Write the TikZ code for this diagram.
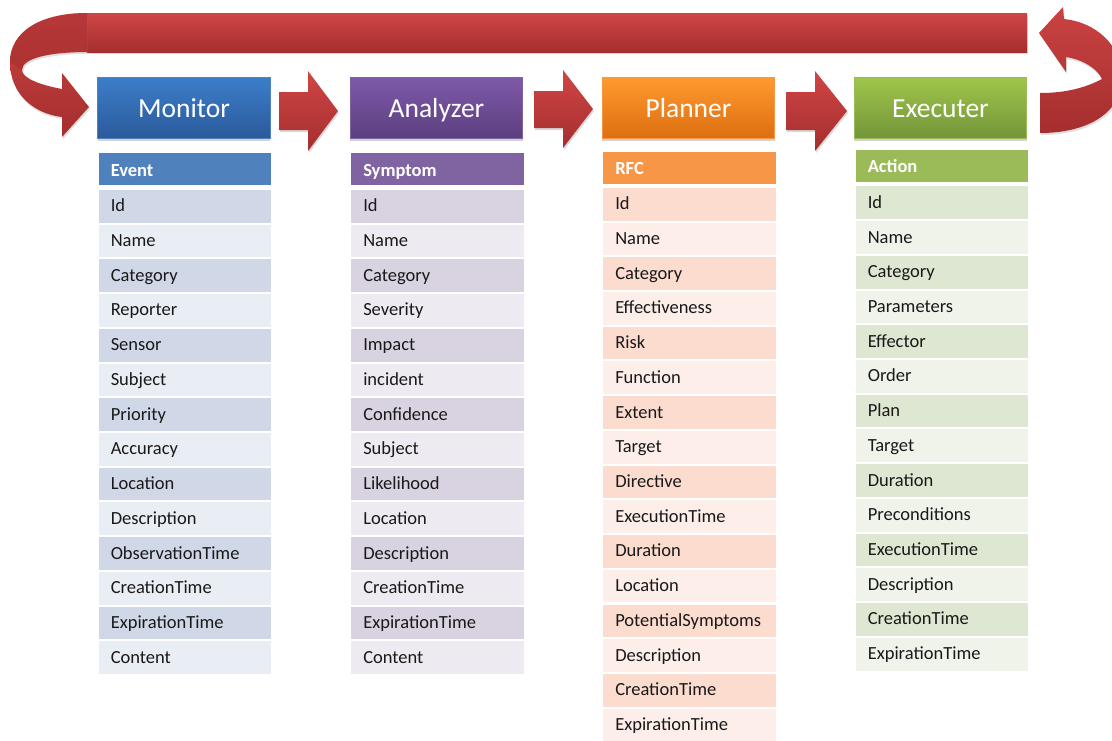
\documentclass[tikz,border=0pt]{standalone}
\usepackage{fontspec}
\setmainfont{Carlito}
\usetikzlibrary{shadows}
\definecolor{monT}{HTML}{3C7ECA}
\definecolor{monB}{HTML}{2B5A9B}
\definecolor{monH}{HTML}{4F81BD}
\definecolor{monA}{HTML}{D0D8E8}
\definecolor{monL}{HTML}{E9EDF4}
\definecolor{anaT}{HTML}{7E59A9}
\definecolor{anaB}{HTML}{5C3F80}
\definecolor{anaH}{HTML}{8064A2}
\definecolor{anaA}{HTML}{D9D3E1}
\definecolor{anaL}{HTML}{EDEAF1}
\definecolor{plaT}{HTML}{FF9A30}
\definecolor{plaB}{HTML}{DD6F10}
\definecolor{plaH}{HTML}{F79646}
\definecolor{plaA}{HTML}{FBDCCF}
\definecolor{plaL}{HTML}{FDEEE9}
\definecolor{exeT}{HTML}{9FC64B}
\definecolor{exeB}{HTML}{74953A}
\definecolor{exeH}{HTML}{9BBB59}
\definecolor{exeA}{HTML}{DEE7D1}
\definecolor{exeL}{HTML}{EFF3EA}
\definecolor{arT}{HTML}{D04545}
\definecolor{arB}{HTML}{A52E2E}
\definecolor{arM}{HTML}{B53737}
\definecolor{arD}{HTML}{9E2B2B}
\tikzset{
  hdr/.style={minimum width=172.5pt, minimum height=61pt, inner sep=0pt, text=white,
    font=\fontsize{27.5}{27.5}\selectfont, text height=19.5pt, text depth=0.5pt,
    drop shadow={opacity=0.35, shadow xshift=0pt, shadow yshift=-2.5pt}},
  th/.style={minimum height=32pt, text width=148.5pt, inner xsep=12pt, inner ysep=0pt,
    align=left, text=white, font=\fontsize{18.5}{18.5}\selectfont\bfseries,
    text height=15pt, text depth=1pt},
  td/.style={minimum height=32.7pt, text width=148.5pt, inner xsep=12pt, inner ysep=0pt,
    align=left, text=black!90, font=\fontsize{18.5}{18.5}\selectfont,
    text height=14pt, text depth=3pt},
  redshape/.style={top color=arT, bottom color=arB,
    drop shadow={opacity=0.3, shadow xshift=1pt, shadow yshift=-2pt}},
  curveshape/.style={top color=arT!80!arM, bottom color=arB,
    drop shadow={opacity=0.25, shadow xshift=1pt, shadow yshift=-2pt}}
}
\newcommand\mkcol[7]{%
  \node[th, fill=#5H] (#1h) at (#2,#3) {#6};
  \foreach \txt [count=\i from 0] in {#7} {
    \pgfmathtruncatemacro\k{mod(\i,2)}
    \ifnum\k=0 \def\rc{#5A}\else\def\rc{#5L}\fi
    \node[td, fill=\rc] (#1\i) at (#2,{#4+34.72*\i}) {\txt};
  }%
}
\begin{document}
\begin{tikzpicture}[x=1pt,y=-1pt]
\useasboundingbox (0,0) rectangle (1112,740);
\fill[white] (0,0) rectangle (1112,740);

% top return bar
\path[redshape] (87,13) rectangle (1027,52);

% left curved arrow
\path[curveshape] (87,13) .. controls (40,13) and (10,32) .. (10,62)
  .. controls (10,95) and (35,114) .. (62,117) -- (62,137) -- (89,107) -- (62,73) -- (62,89)
  .. controls (40,85) and (22,78) .. (22,70) .. controls (22,58) and (50,52) .. (87,52) -- cycle;
\fill[arD, opacity=0.45] (87,13) .. controls (40,13) and (10,32) .. (10,62) -- (22,70)
  .. controls (22,58) and (50,52) .. (87,52) -- cycle;

% right curved arrow
\path[curveshape] (1040,93) -- (1040,133) .. controls (1085,133) and (1120,115) .. (1122,80)
  .. controls (1123,45) and (1095,22) .. (1064,19) -- (1063,7) -- (1039,33) -- (1066,72) -- (1066,57)
  .. controls (1085,60) and (1098,70) .. (1102,79) .. controls (1085,88) and (1065,93) .. (1040,93) -- cycle;

% straight arrows
\path[redshape] (279,92) -- (308,92) -- (308,71) -- (338,111) -- (308,151) -- (308,130) -- (279,130) -- cycle;
\path[redshape] (534,91) -- (563,91) -- (563,70) -- (593,109) -- (563,148) -- (563,128) -- (534,128) -- cycle;
\path[redshape] (786,92) -- (815,92) -- (815,71) -- (847,111) -- (815,151) -- (815,130) -- (786,130) -- cycle;

% stage boxes
\node[hdr, top color=monT, bottom color=monB, draw=monH, line width=0.6pt] (mon) at (184,107.5) {Monitor};
\node[hdr, top color=anaT, bottom color=anaB, draw=anaH, line width=0.6pt] (ana) at (436.5,107.5) {Analyzer};
\node[hdr, top color=plaT, bottom color=plaB, draw=plaH, line width=0.6pt] (pla) at (688.5,107.5) {Planner};
\node[hdr, top color=exeT, bottom color=exeB, draw=exeH, line width=0.6pt] (exe) at (940.5,107.5) {Executer};

% tables
\mkcol{m}{185}{169}{206.3}{mon}{Event}{Id,Name,Category,Reporter,Sensor,Subject,Priority,Accuracy,Location,Description,ObservationTime,CreationTime,ExpirationTime,Content}
\mkcol{a}{437.5}{169}{206.3}{ana}{Symptom}{Id,Name,Category,Severity,Impact,incident,Confidence,Subject,Likelihood,Location,Description,CreationTime,ExpirationTime,Content}
\mkcol{p}{689.5}{167.5}{204.2}{pla}{RFC}{Id,Name,Category,Effectiveness,Risk,Function,Extent,Target,Directive,ExecutionTime,Duration,Location,PotentialSymptoms,Description,CreationTime,ExpirationTime}
\mkcol{e}{942}{165.8}{202.8}{exe}{Action}{Id,Name,Category,Parameters,Effector,Order,Plan,Target,Duration,Preconditions,ExecutionTime,Description,CreationTime,ExpirationTime}
\end{tikzpicture}
\end{document}
